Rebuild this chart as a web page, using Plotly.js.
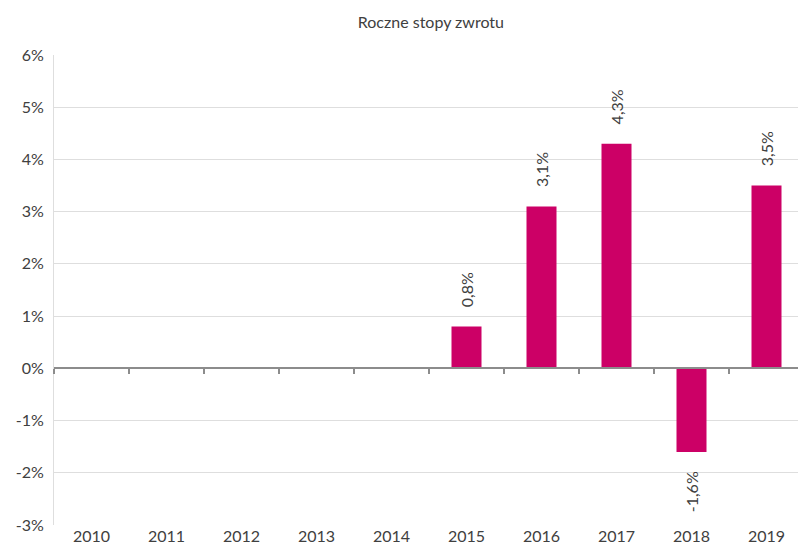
<!DOCTYPE html>
<html>
<head>
<meta charset="utf-8">
<script src="https://cdn.plot.ly/plotly-3.0.1.min.js"></script>
<style>html,body{margin:0;padding:0;background:#fff;}#chart{width:798px;height:555px;}</style>
</head>
<body>
<div id="chart"></div>
<script>
const years = ['2010','2011','2012','2013','2014','2015','2016','2017','2018','2019'];
const returns = [null, null, null, null, null, 0.8, 3.1, 4.3, -1.6, 3.5];
const yTicks = [-3, -2, -1, 0, 1, 2, 3, 4, 5, 6];
const yTickLabels = ['-3%', '-2%', '-1%', '0%', '1%', '2%', '3%', '4%', '5%', '6%'];
const chartTitle = 'Roczne stopy zwrotu';

const fontFam = 'Lato, "Open Sans", sans-serif';
const pad = '\u00a0\u00a0\u00a0\u00a0';
const xRange = [-0.5, 9.42];
const data = [
  {
    type: 'bar', x: years, y: returns, xaxis: 'x', yaxis: 'y',
    marker: {color: '#CC0066'},
    texttemplate: returns.map(v => (v !== null && v < 0) ? '%{y:.1f}%' + pad : pad + '%{y:.1f}%'),
    textposition: 'outside', textangle: -90, constraintext: 'none',
    textfont: {family: fontFam, size: 16, color: '#404040'},
    cliponaxis: false, hoverinfo: 'none'
  },
  {
    type: 'scatter', mode: 'markers', x: years, y: years.map(() => null),
    xaxis: 'x2', yaxis: 'y', showlegend: false, hoverinfo: 'none'
  }
];
const layout = {
  width: 798, height: 555,
  margin: {l: 54, r: 0, t: 55, b: 30},
  paper_bgcolor: '#fff', plot_bgcolor: '#fff',
  separators: ', ',
  showlegend: false,
  bargap: 0.6,
  font: {family: fontFam, size: 15, color: '#404040'},
  title: {text: chartTitle, x: 0.54, xanchor: 'center', y: 0.96, yanchor: 'middle', font: {family: fontFam, size: 16, color: '#404040'}},
  xaxis: {
    type: 'category', range: xRange, showline: false, showgrid: false, zeroline: false,
    ticks: '', tickfont: {family: fontFam, size: 16, color: '#404040'}, fixedrange: true
  },
  xaxis2: {
    type: 'category', overlaying: 'x', anchor: 'free', position: 1/3, side: 'bottom',
    range: xRange, showline: true, linecolor: '#8c8c8c', linewidth: 2,
    ticks: 'outside', tickson: 'boundaries', ticklen: 5, tickcolor: '#8c8c8c', tickwidth: 1.5,
    showticklabels: false, showgrid: false, zeroline: false
  },
  yaxis: {
    range: [-3, 6], tickmode: 'array', tickvals: yTicks, ticktext: yTickLabels,
    showgrid: true, gridcolor: '#dedede', gridwidth: 1,
    zeroline: false, showline: true, linecolor: '#dedede', linewidth: 1,
    ticks: 'outside', ticklen: 6, tickcolor: 'rgba(0,0,0,0)',
    tickfont: {family: fontFam, size: 16, color: '#404040'}, fixedrange: true
  }
};
Plotly.newPlot('chart', data, layout, {displayModeBar: false, staticPlot: true});
</script>
</body>
</html>
